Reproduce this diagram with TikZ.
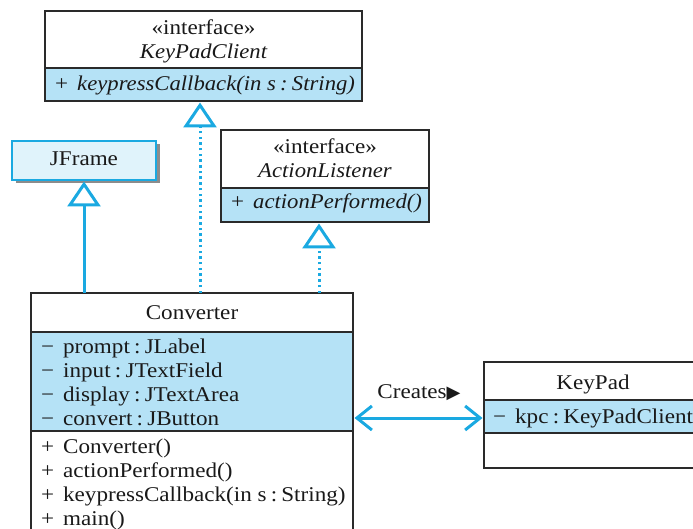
\documentclass[tikz,border=0pt]{standalone}
\usepackage{fontspec}
\setmainfont{Liberation Serif}[UprightFeatures={FakeStretch=1.1}, ItalicFeatures={FakeStretch=1.08}]
\newfontfamily\symfont{DejaVu Sans}
\usetikzlibrary{arrows.meta,shadows}
\definecolor{umlblue}{HTML}{B5E2F6}
\definecolor{umlcyan}{HTML}{1AA9E1}
\definecolor{framefill}{HTML}{E0F3FB}
\definecolor{boxline}{HTML}{2A2A2A}
\newcommand\umlmem[2]{\makebox[22pt][l]{#1}#2}
\newcommand\umlcol{\hspace{0.2em}:\hspace{0.2em}}
\tikzset{
 comp/.style={draw=boxline, line width=1.3pt, anchor=north west, inner sep=0pt, outer sep=0pt},
 attr/.style={comp, fill=umlblue},
 txt/.style={anchor=base, inner sep=0pt, text=black!90, font=\fontsize{21}{24}\selectfont},
 ltxt/.style={txt, anchor=base west},
 gen/.style={draw=umlcyan, line width=3pt, -{Triangle[open, length=25pt, width=33pt]}},
 real/.style={gen, dash pattern=on 2.5pt off 3.2pt},
 creates/.style={draw=umlcyan, line width=3pt, {Straight Barb[length=15pt, width=24pt]}-{Straight Barb[length=15pt, width=24pt]}}
}
\begin{document}
\begin{tikzpicture}[x=1pt,y=-1pt]
\useasboundingbox (0,0) rectangle (693,529);
\clip (0,0) rectangle (693,529);
% KeyPadClient
\node[comp, minimum width=317pt, minimum height=57pt] (kpcT) at (45,11) {};
\node[attr, minimum width=317pt, minimum height=33pt] (kpcO) at (45,68) {};
\node[txt] (kpcS) at (203.5,35) {«interface»};
\node[txt] (kpcN) at (203.5,59) {\itshape KeyPadClient};
\node[ltxt] (kpcM) at (55,91) {\umlmem{+}{\itshape keypressCallback(in s\umlcol String)}};
% ActionListener
\node[comp, minimum width=208pt, minimum height=58pt] (alT) at (221,130) {};
\node[attr, minimum width=208pt, minimum height=34pt] (alO) at (221,188) {};
\node[txt] (alS) at (325,154) {«interface»};
\node[txt] (alN) at (325,178) {\itshape ActionListener};
\node[ltxt] (alM) at (231,209) {\umlmem{+}{\itshape actionPerformed()}};
% JFrame
\node[comp, draw=umlcyan, line width=1.6pt, fill=framefill, minimum width=144pt, minimum height=39pt,
  drop shadow={shadow xshift=3.5pt, shadow yshift=-3.5pt, fill=black!45, opacity=1}] (jf) at (12,141) {};
\node[txt] (jfN) at (84,166) {JFrame};
% Converter
\node[comp, minimum width=322pt, minimum height=39pt] (cvT) at (31,293) {};
\node[attr, minimum width=322pt, minimum height=99pt] (cvA) at (31,332) {};
\node[comp, minimum width=322pt, minimum height=110pt] (cvM) at (31,431) {};
\node[txt] (cvN) at (192,319) {Converter};
\node[ltxt] (cva1) at (41,353) {\umlmem{−}{prompt\umlcol JLabel}};
\node[ltxt] (cva2) at (41,377) {\umlmem{−}{input\umlcol JTextField}};
\node[ltxt] (cva3) at (41,401) {\umlmem{−}{display\umlcol JTextArea}};
\node[ltxt] (cva4) at (41,425) {\umlmem{−}{convert\umlcol JButton}};
\node[ltxt] (cvm1) at (41,453) {\umlmem{+}{Converter()}};
\node[ltxt] (cvm2) at (41,477) {\umlmem{+}{actionPerformed()}};
\node[ltxt] (cvm3) at (41,501) {\umlmem{+}{keypressCallback(in s\umlcol String)}};
\node[ltxt] (cvm4) at (41,525) {\umlmem{+}{main()}};
% KeyPad
\node[comp, minimum width=230pt, minimum height=38pt] (kpT) at (484,362) {};
\node[attr, minimum width=230pt, minimum height=33pt] (kpA) at (484,400) {};
\node[comp, minimum width=230pt, minimum height=35pt] (kpE) at (484,433) {};
\node[txt] (kpN) at (593,389) {KeyPad};
\node[ltxt] (kpa1) at (493,423) {\umlmem{−}{kpc\umlcol KeyPadClient}};
% connectors
\coordinate (fJ) at (84,293);
\coordinate (fK) at (200,293);
\coordinate (fA) at (319,293);
\coordinate (cL) at (353,418);
\draw[gen] (fJ) -- ([yshift=-1.5pt]fJ |- jf.south);
\draw[real] (fK) -- ([yshift=-1.5pt]fK |- kpcO.south);
\draw[real] (fA) -- ([yshift=-1.5pt]fA |- alO.south);
\draw[creates] ([xshift=1.5pt]cL) -- ([xshift=-1.5pt]cL -| kpA.west);
\node[txt] (crt) at (419,398) {Creates{\symfont\fontsize{18}{18}\selectfont ▶}};
\end{tikzpicture}
\end{document}
